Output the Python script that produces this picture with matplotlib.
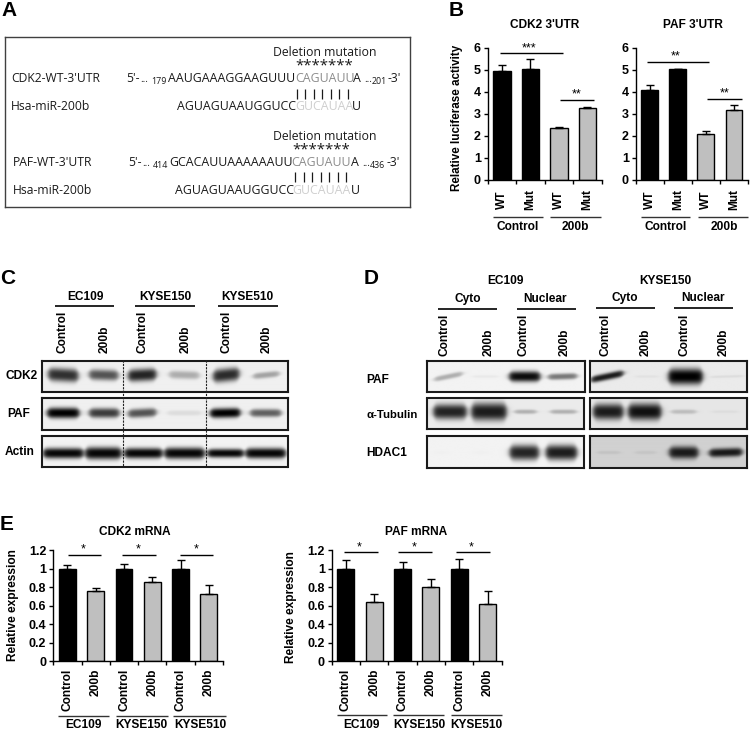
import numpy as np
import matplotlib
matplotlib.use('Agg')
import matplotlib.pyplot as plt
from matplotlib.transforms import blended_transform_factory

# ─── DATA ────────────────────────────────────────────────────
luc_labels = ['WT', 'Mut', 'WT', 'Mut']
luc_cdk2 = [4.95, 5.03, 2.35, 3.25]
luc_cdk2_err = [0.27, 0.45, 0.05, 0.08]
luc_paf = [4.10, 5.03, 2.07, 3.18]
luc_paf_err = [0.23, 0.02, 0.14, 0.22]
luc_colors = ['black', 'black', '#BFBFBF', '#BFBFBF']

mrna_labels = ['Control', '200b', 'Control', '200b', 'Control', '200b']
mrna_cdk2 = [1.0, 0.76, 1.0, 0.86, 1.0, 0.73]
mrna_cdk2_err = [0.04, 0.03, 0.05, 0.05, 0.09, 0.10]
mrna_paf = [1.0, 0.64, 1.0, 0.80, 1.0, 0.615]
mrna_paf_err = [0.09, 0.09, 0.07, 0.09, 0.11, 0.14]
mrna_colors = ['black', '#BFBFBF'] * 3
mrna_ticks = [0, 0.2, 0.4, 0.6, 0.8, 1.0, 1.2]
mrna_ticklabels = ['0', '0.2', '0.4', '0.6', '0.8', '1', '1.2']

# band darkness read by eye, 0 = nothing, 1 = black
c_cdk2 = [0.80, 0.65, 0.85, 0.28, 0.82, 0.32]
c_paf = [1.00, 0.75, 0.65, 0.08, 1.00, 0.60]
c_actin = [0.97, 0.97, 0.97, 0.97, 0.97, 0.97]
d_paf_ec = [0.28, 0.04, 0.95, 0.50]
d_tub_ec = [0.85, 0.88, 0.25, 0.25]
d_hdac_ec = [0.01, 0.01, 0.85, 0.88]
d_paf_ky = [0.88, 0.04, 1.00, 0.06]
d_tub_ky = [0.88, 0.93, 0.18, 0.04]
d_hdac_ky = [0.07, 0.06, 0.88, 0.88]

W, H = 750, 730
plt.rcParams['font.family'] = ['Liberation Sans', 'DejaVu Sans']
plt.rcParams['font.weight'] = 'bold'
LABEL = 8.6

fig = plt.figure(figsize=(W / 100, H / 100), dpi=100)

# overlay in pixel coordinates, for all the loose text and lines
ov = fig.add_axes([0, 0, 1, 1], zorder=5)
ov.set_xlim(0, W)
ov.set_ylim(H, 0)
ov.axis('off')


def px_axes(x0, y0, x1, y1):
    return fig.add_axes([x0 / W, 1 - y1 / H, (x1 - x0) / W, (y1 - y0) / H])


def line(x0, x1, y, lw=1.0, color='black'):
    ov.plot([x0, x1], [y, y], color=color, lw=lw, solid_capstyle='butt')


def txt(x, y, s, size=LABEL, ha='center', va='center', **kw):
    ov.text(x, y, s, fontsize=size, ha=ha, va=va, **kw)


def stars(x0, x1, y, s, sx, sy):
    line(x0, x1, y)
    txt(sx, sy + 2, s, size=9, weight='normal')


def bars(box, vals, errs, colors, labels, ticks, ticklabels, ylim, label_y, label_va):
    ax = px_axes(*box)
    pos = np.arange(len(vals)) + 0.5
    ax.bar(pos, vals, width=0.6, color=colors, edgecolor='black', linewidth=1.0,
           yerr=[np.zeros(len(errs)), errs],
           error_kw=dict(ecolor='black', elinewidth=1.0, capsize=3, capthick=1.0))
    ax.set_xlim(0, len(vals))
    ax.set_ylim(*ylim)
    ax.set_xticks(np.arange(len(vals) + 1))
    ax.set_xticklabels([])
    ax.set_yticks(ticks)
    ax.set_yticklabels(ticklabels)
    ax.tick_params(axis='both', length=3, width=1.0, labelsize=9, pad=2)
    for s in ['top', 'right']:
        ax.spines[s].set_visible(False)
    for s in ['left', 'bottom']:
        ax.spines[s].set_linewidth(1.0)
    ax.patch.set_alpha(0)
    tr = blended_transform_factory(ax.transData, ov.transData)
    for p, lab in zip(pos, labels):
        ov.text(p, label_y, lab, transform=tr, rotation=90, fontsize=LABEL,
                ha='center', va=label_va, clip_on=False)
    return ax


def blot(box, strengths, lanes, yc, bg=0.94, power=2.6):
    # lanes: (left, right, half height, tilt) in figure pixels
    x0, y0, x1, y1 = box
    ax = px_axes(x0, y0, x1, y1)
    xs = np.arange(x0, x1, 0.5)
    ys = np.arange(y0, y1, 0.5)
    X, Y = np.meshgrid(xs, ys)
    img = np.full(X.shape, float(bg))
    for d, (l, r, th, tilt) in zip(strengths, lanes):
        xm = (l + r) / 2
        # band gets thinner towards its ends
        sx = 0.5 * (np.tanh((X - l - 2) / 3.0) - np.tanh((X - r + 2) / 3.0))
        local = 0.88 * th * (0.55 + 0.45 * np.clip(sx, 0, 1))
        sy = np.exp(-np.abs((Y - yc - tilt * (X - xm)) / local) ** power)
        img = img * (1 - d * sx * sy)
    ax.imshow(img, cmap='gray', vmin=0, vmax=1, aspect='auto',
              extent=[x0, x1, y1, y0], interpolation='bilinear')
    ax.set_xticks([])
    ax.set_yticks([])
    for s in ax.spines.values():
        s.set_linewidth(1.5)
        s.set_color('#1A1A1A')
    return ax


# ─── A: sequences ────────────────────────────────────────────
ax_a = px_axes(5, 37, 409.5, 206.5)
ax_a.set_xticks([])
ax_a.set_yticks([])
for s in ax_a.spines.values():
    s.set_linewidth(1.0)
    s.set_color('#404040')

SEQ = ['Open Sans', 'DejaVu Sans']
SZ = 8.75
SZ_S = 8.95


def seq(x, y, s, color='#1A1A1A', size=SZ):
    ov.text(x, y, s, family=SEQ, weight='normal', fontsize=size, color=color,
            ha='left', va='center')


def seq_row(y, lab_x, lab, x5, n1, xs, s, xg, xa, n2, x3):
    seq(lab_x, y, lab)
    seq(x5, y, "5'-")
    seq(x5 + 14, y + 1, '...', size=7)
    seq(x5 + 25, y + 3, n1, size=6.4)
    seq(xs, y, s, size=SZ_S)
    seq(xg, y, 'CAGUAUU', color='#8C8C8C', size=SZ_S)
    seq(xa, y, 'A', size=SZ_S)
    seq(xa + 11, y + 1, '...', size=7)
    seq(xa + 19, y + 3, n2, size=6.4)
    seq(x3, y, "-3'")


def mir_row(y, lab_x, xs, xg, xu):
    seq(lab_x, y, 'Hsa-miR-200b')
    seq(xs, y, 'AGUAGUAAUGGUCC', size=SZ_S)
    seq(xg, y, 'GUCAUAA', color='#CFCFCF', size=SZ_S)
    seq(xu, y, 'U', size=SZ_S)


def pairing(x0, x1, y):
    for x in np.linspace(x0, x1, 7):
        ov.plot([x, x], [y - 5, y + 5], color='#1A1A1A', lw=0.9, solid_capstyle='butt')


seq(273, 52, 'Deletion mutation', size=8.85)
seq(295, 65.5, '*' * 7, size=10.8)
pairing(296.7, 348, 94)
seq_row(78, 11, "CDK2-WT-3'UTR", 126, '179', 168, 'AAUGAAAGGAAGUUU', 295, 353, '201', 388)
mir_row(107, 11, 177, 295, 352)

seq(273, 137, 'Deletion mutation', size=8.85)
seq(292.5, 149.5, '*' * 7, size=10.8)
pairing(295, 346, 177)
seq_row(162, 13, "PAF-WT-3'UTR", 128, '414', 169, 'GCACAUUAAAAAAUU', 291, 351, '436', 387)
mir_row(191, 13, 175, 292, 351)

# ─── panel letters ───────────────────────────────────────────
for x, y, s in [(1, 11, 'A'), (449, 10, 'B'), (0, 279, 'C'), (364, 279, 'D'), (0, 524, 'E')]:
    txt(x, y, s, size=15, ha='left')

# ─── B: luciferase ───────────────────────────────────────────
b_ticks = [0, 1, 2, 3, 4, 5, 6]
bars((487.7, 47.7, 601.7, 180), luc_cdk2, luc_cdk2_err, luc_colors, luc_labels,
     b_ticks, b_ticks, (0, 6), 200, 'center')
bars((635.7, 47.7, 748, 180), luc_paf, luc_paf_err, luc_colors, luc_labels,
     b_ticks, b_ticks, (0, 6), 200, 'center')
txt(545, 24.5, "CDK2 3'UTR")
txt(693, 24.5, "PAF 3'UTR")
txt(457, 118, 'Relative luciferase activity', size=8.4, rotation=90)
stars(500, 562.7, 53.3, '***', 529, 46)
stars(560, 594, 100, '**', 577, 92.5)
stars(647, 709, 61.7, '**', 676, 54.5)
stars(707, 741.7, 98.7, '**', 725, 91.5)
for x0, x1, xc, s in [(492.7, 542.7, 517.7, 'Control'), (550, 600.7, 575.7, '200b'),
                      (641, 690, 666, 'Control'), (697.7, 747.7, 724, '200b')]:
    line(x0, x1, 216.7, color='#333333')
    txt(xc, 226.7, s)

# ─── C: western blots ────────────────────────────────────────
c_lanes = [(46, 80, 7.5, 0.05), (87, 120, 6, 0.03), (126, 158, 7, -0.05),
           (167, 201, 4.5, 0.03), (211, 241, 7.5, -0.1), (251, 281, 3.5, -0.1)]
c_lanes_paf = [(45, 81, 6, 0.0), (87, 121, 5.5, 0.0), (126, 158, 5, -0.05),
               (165, 203, 3, 0.0), (208, 242, 5.5, -0.02), (248, 283, 4.5, 0.0)]
c_lanes_actin = [(41, 85, 6, 0.0), (83, 123, 7, 0.0), (122, 164, 6, 0.0),
                 (162, 206, 6.5, 0.0), (205, 245, 5, 0.0), (243, 287, 6, 0.0)]
blot((42, 361, 288, 391.5), c_cdk2, c_lanes, 375.5)
blot((42, 397.5, 288, 430), c_paf, c_lanes_paf, 413)
blot((42, 436, 287.5, 467), c_actin, c_lanes_actin, 453, bg=0.95)
for x in [122.5, 206]:
    ov.plot([x, x], [360, 467], color='#222222', lw=0.8, ls=(0, (2, 1)))
for xc, x0, x1, s in [(85, 55, 114, 'EC109'), (165, 135, 195, 'KYSE150'),
                      (247.7, 218, 277.7, 'KYSE510')]:
    txt(xc, 296.7, s)
    line(x0, x1, 306, lw=1.2)
for x, s in zip([62.3, 105, 142.3, 186, 226, 266.7], mrna_labels):
    txt(x, 353, s, rotation=90, va='bottom')
txt(5.5, 376, 'CDK2', ha='left')
txt(7, 414, 'PAF', ha='left')
txt(5, 452, 'Actin', ha='left')

# ─── D: fractionation blots ──────────────────────────────────
d_l_paf = [(432, 464, 3, -0.2), (470, 500, 1.5, 0.0), (507, 542, 6, 0.0), (546, 579, 3.5, -0.03)]
d_l_tub = [(431, 468, 8.5, 0.0), (469, 508, 10, 0.0), (512, 538, 2.5, 0.0), (548, 578, 2.5, 0.0)]
d_l_hdac = [(432, 450, 2, 0.0), (470, 490, 2, 0.0), (507, 540, 8.5, 0.0), (543, 578, 8.5, 0.0)]
d_r_paf = [(589, 625, 4, -0.2), (633, 660, 1.5, 0.0), (666, 704, 9, 0.0), (708, 745, 1.5, -0.03)]
d_r_tub = [(591, 625, 9, 0.0), (626, 663, 9.5, 0.0), (669, 698, 2.5, 0.0), (710, 740, 1.5, 0.0)]
d_r_hdac = [(595, 622, 2, 0.0), (633, 658, 2, 0.0), (667, 700, 7, 0.0), (707, 744, 5, -0.03)]
blot((426.7, 360.5, 584.7, 391.7), d_paf_ec, d_l_paf, 376.5, bg=0.95)
blot((426.7, 398.5, 584.2, 429.3), d_tub_ec, d_l_tub, 412, bg=0.92)
blot((426.7, 436, 584, 467.5), d_hdac_ec, d_l_hdac, 453, bg=0.95)
blot((590, 360.5, 747.3, 391.7), d_paf_ky, d_r_paf, 376.5, bg=0.92)
blot((590, 398.5, 747, 429.3), d_tub_ky, d_r_tub, 412, bg=0.90)
blot((590, 436, 747, 467.5), d_hdac_ky, d_r_hdac, 453, bg=0.82)
txt(505, 280.7, 'EC109')
txt(665, 280.7, 'KYSE150')
for xc, x0, x1, s, y in [(467.7, 437.7, 496.7, 'Cyto', 309), (545, 516.7, 576, 'Nuclear', 309),
                         (624.3, 595.7, 655, 'Cyto', 308.3), (703, 674, 733, 'Nuclear', 308.3)]:
    txt(xc, y - 10, s)
    line(x0, x1, y, lw=1.2)
for x, s in zip([444.3, 488.3, 523.3, 565, 605.7, 645.7, 684, 724], mrna_labels[:2] * 4):
    txt(x, 356, s, rotation=90, va='bottom')
txt(366.7, 380, 'PAF', ha='left')
txt(366.7, 415, 'α-Tubulin', ha='left', size=8.2)
txt(366.7, 453, 'HDAC1', ha='left')

# ─── E: mRNA ─────────────────────────────────────────────────
bars((53.3, 550.3, 223, 661.3), mrna_cdk2, mrna_cdk2_err, mrna_colors, mrna_labels,
     mrna_ticks, mrna_ticklabels, (0, 1.2), 669, 'top')
bars((331.7, 550.3, 501.7, 661.3), mrna_paf, mrna_paf_err, mrna_colors, mrna_labels,
     mrna_ticks, mrna_ticklabels, (0, 1.2), 669, 'top')
txt(135, 531.7, 'CDK2 mRNA')
txt(415.7, 531.7, 'PAF mRNA')
txt(13, 605, 'Relative expression', rotation=90)
txt(290.7, 606.7, 'Relative expression', rotation=90)
for x0, x1, xc in [(68, 101, 83), (122, 155.7, 137.7), (180, 213, 195.7)]:
    stars(x0, x1, 555.3, '*', xc, 547.5)
for x0, x1, xc in [(344, 378, 359), (398, 431.7, 413.7), (456, 490, 471)]:
    stars(x0, x1, 552.3, '*', xc, 545)
for x0, x1, xc, s in [(58, 109, 83, 'EC109'), (116, 168, 141.7, 'KYSE150'), (173, 226, 200, 'KYSE510')]:
    line(x0, x1, 716, color='#333333')
    txt(xc, 725, s)
for x0, x1, xc, s in [(336.7, 387, 361.7, 'EC109'), (393, 444, 419, 'KYSE150'), (450.7, 501.7, 476.7, 'KYSE510')]:
    line(x0, x1, 715, color='#333333')
    txt(xc, 725, s)

fig.savefig('out.png', dpi=100)
